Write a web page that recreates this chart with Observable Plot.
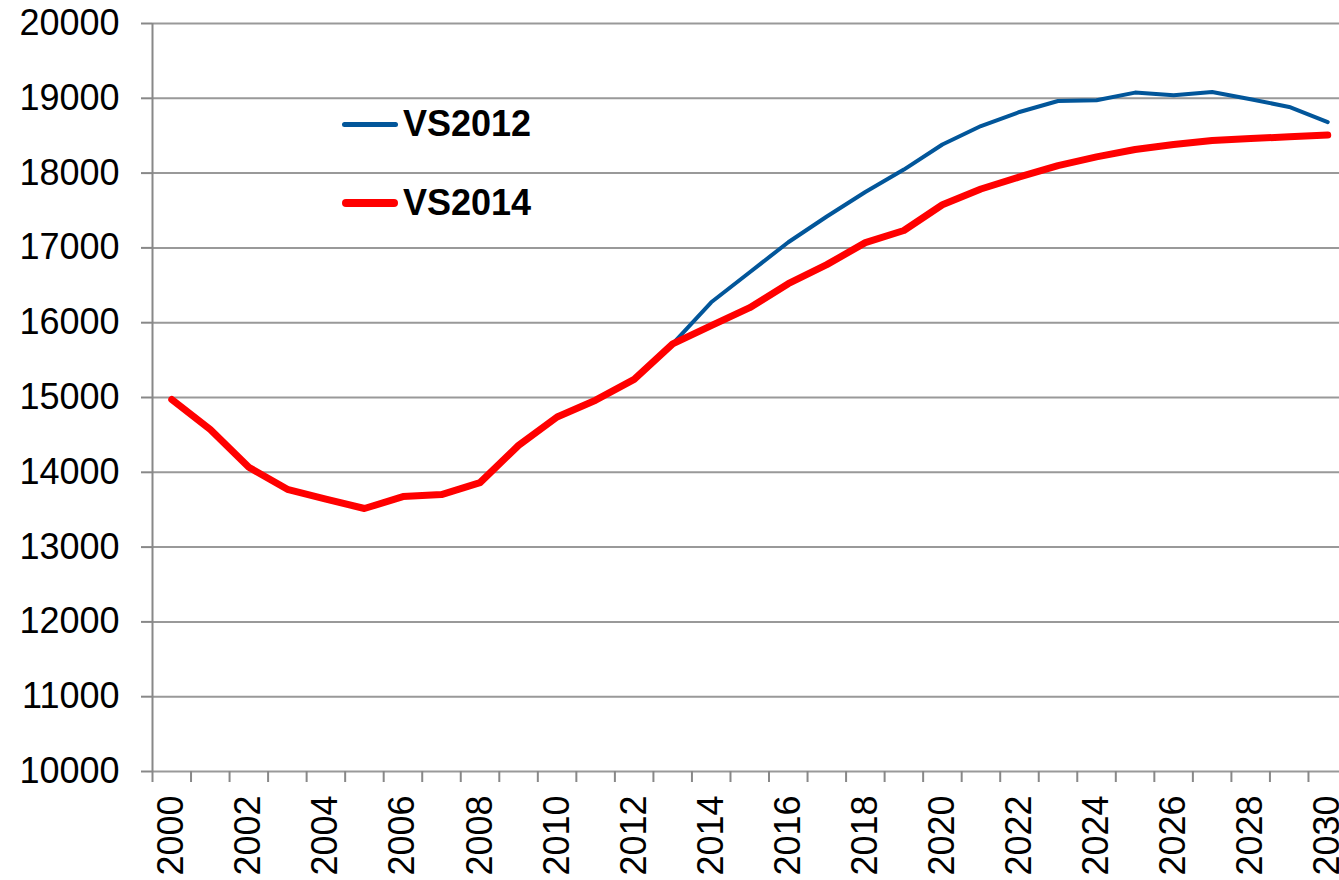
<!DOCTYPE html>
<html><head><meta charset="utf-8">
<script src="https://cdn.jsdelivr.net/npm/d3@7"></script>
<script src="https://cdn.jsdelivr.net/npm/@observablehq/plot@0.6"></script>
<style>
html,body{margin:0;padding:0;overflow:hidden;background:#fff;font-family:"Liberation Sans",Arial,sans-serif}
#wrap{position:relative;width:1339px;height:880px;overflow:hidden}
.lg{position:absolute;left:342px;height:36px;line-height:36px;font-size:36px;font-weight:bold;color:#000;white-space:nowrap}
.lg .sw{position:absolute;left:0;width:56px;border-radius:4px}
.lg .tx{position:absolute;left:61px;top:0}
</style></head><body><div id="wrap"></div>
<script>
const years = [2000,2001,2002,2003,2004,2005,2006,2007,2008,2009,2010,2011,2012,2013,2014,2015,2016,2017,2018,2019,2020,2021,2022,2023,2024,2025,2026,2027,2028,2029,2030];
const vs2014 = [14973,14573,14067,13773,13640,13516,13676,13702,13862,14360,14740,14964,15242,15716,15960,16201,16521,16776,17070,17233,17577,17787,17949,18101,18217,18315,18383,18436,18463,18485,18508];
const vs2012 = [14973,14573,14067,13773,13640,13516,13676,13702,13862,14360,14740,14964,15242,15716,16273,16675,17076,17420,17747,18047,18383,18629,18817,18964,18973,19076,19040,19085,18987,18884,18682];
const seriesNames = ["VS2012","VS2014"];
const seriesColors = ["#02569A","#FF0000"];
const seriesWidths = [4,7];
const yTicks = [10000,11000,12000,13000,14000,15000,16000,17000,18000,19000,20000];
const xLabels = [2000,2002,2004,2006,2008,2010,2012,2014,2016,2018,2020,2022,2024,2026,2028,2030];

const rows2012 = years.map((y,i)=>({year:y, value:vs2012[i]}));
const rows2014 = years.map((y,i)=>({year:y, value:vs2014[i]}));
const boundaries = years.map(y=>y-0.5).concat([years[years.length-1]+0.5]);

const plot = Plot.plot({
  width:1339, height:880,
  marginLeft:152, marginRight:0, marginTop:23, marginBottom:109,
  x:{type:"linear", domain:[years[0]-0.5, years[years.length-1]+0.5], range:[152,1346.5]},
  y:{domain:[yTicks[0], yTicks[yTicks.length-1]]},
  style:{fontFamily:"'Liberation Sans', Arial, sans-serif", fontSize:"36px", color:"#000", background:"#fff", overflow:"hidden"},
  marks:[
    Plot.ruleY(yTicks, {stroke:"#999", strokeWidth:2}),
    Plot.ruleX([boundaries[0]], {stroke:"#888", strokeWidth:2}),
    Plot.axisY({ticks:yTicks, tickSize:11, tickPadding:22, tickFormat:d=>String(d), stroke:"#888", strokeOpacity:1, strokeWidth:2, fill:"#000", label:null, fontSize:36}),
    Plot.axisX({ticks:boundaries, tickSize:11, tickFormat:()=>"", stroke:"#888", strokeOpacity:1, strokeWidth:2, label:null}),
    Plot.axisX({ticks:xLabels, tickSize:0, tickPadding:24, tickRotate:-90, tickFormat:d=>String(d), fill:"#000", label:null, fontSize:36}),
    Plot.lineY(rows2012, {x:"year", y:"value", stroke:seriesColors[0], strokeWidth:seriesWidths[0], strokeLinejoin:"round", strokeLinecap:"round"}),
    Plot.lineY(rows2014, {x:"year", y:"value", stroke:seriesColors[1], strokeWidth:seriesWidths[1], strokeLinejoin:"round", strokeLinecap:"round"})
  ]
});
const wrap = document.getElementById("wrap");
wrap.appendChild(plot);

const legendTops = [106, 184.5];
const swatchOffsets = [18, 18.3];
seriesNames.forEach((name,i)=>{
  const d = document.createElement("div");
  d.className = "lg";
  d.style.top = legendTops[i] + "px";
  const sw = document.createElement("div");
  sw.className = "sw";
  sw.style.background = seriesColors[i];
  sw.style.height = (seriesWidths[i]+1) + "px";
  sw.style.top = (swatchOffsets[i] - (seriesWidths[i]+1)/2) + "px";
  const tx = document.createElement("span");
  tx.className = "tx";
  tx.textContent = name;
  d.appendChild(sw); d.appendChild(tx);
  wrap.appendChild(d);
});
</script>
</body></html>
